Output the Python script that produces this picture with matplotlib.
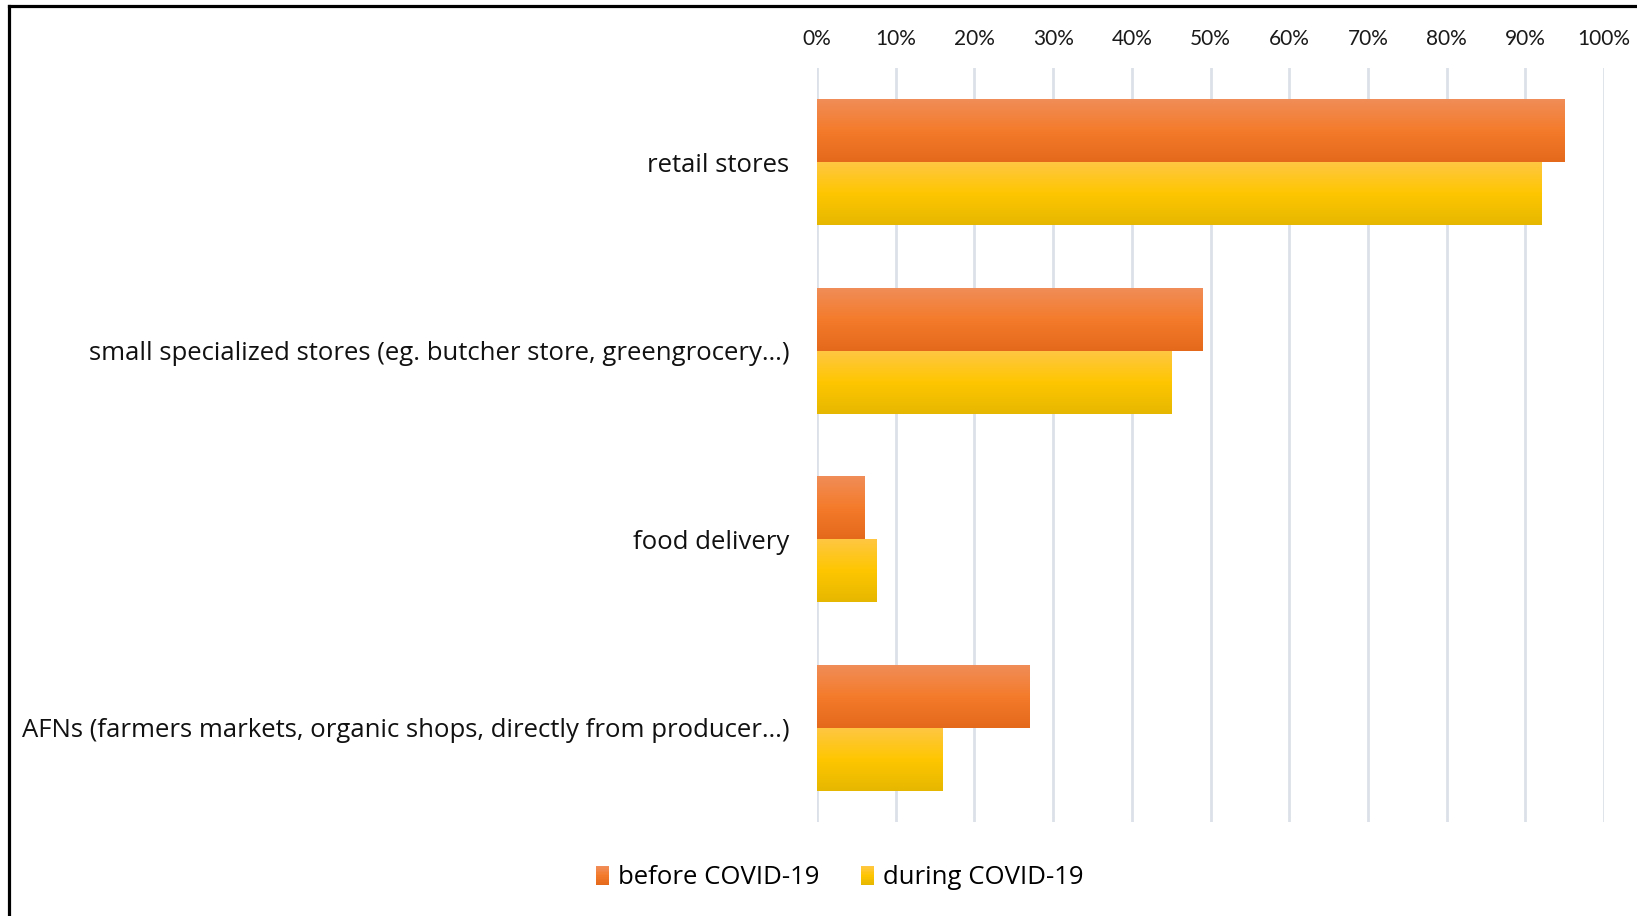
import numpy as np
import matplotlib
matplotlib.use("Agg")
import matplotlib.pyplot as plt
from matplotlib.colors import LinearSegmentedColormap
from matplotlib.lines import Line2D
from matplotlib.patches import Patch, Rectangle
from matplotlib.legend_handler import HandlerBase

plt.rcParams['font.family'] = ['Open Sans', 'DejaVu Sans']

categories = [
    "retail stores",
    "small specialized stores (eg. butcher store, greengrocery\u2026)",
    "food delivery",
    "AFNs (farmers markets, organic shops, directly from producer\u2026)",
]
before_covid = [95, 49, 6, 27]
during_covid = [92, 45, 7.5, 16]
series_names = ["before COVID-19", "during COVID-19"]
tick_values = list(range(0, 101, 10))
tick_labels = [f"{v}%" for v in tick_values]

# top -> middle -> bottom shading for each series
orange_stops = ["#F08D58", "#F47B2B", "#E5691B"]
yellow_stops = ["#FFC742", "#FEC600", "#E6B700"]
orange_cmap = LinearSegmentedColormap.from_list("orange_grad", orange_stops)
yellow_cmap = LinearSegmentedColormap.from_list("yellow_grad", yellow_stops)

W, H, DPI = 1637, 916, 100
fig = plt.figure(figsize=(W / DPI, H / DPI), dpi=DPI)
ax = fig.add_axes([817 / W, 1 - 822 / H, 787 / W, 754 / H])

n = len(categories)
ypos = np.arange(n)[::-1]  # first category on top
bar_h = 1 / 3

bars_before = ax.barh(ypos + bar_h / 2, before_covid, height=bar_h,
                      color=orange_stops[1], zorder=2)
bars_during = ax.barh(ypos - bar_h / 2, during_covid, height=bar_h,
                      color=yellow_stops[1], zorder=2)


def shade(bars, cmap):
    grad = np.linspace(0, 1, 256).reshape(-1, 1)
    for b in bars:
        x0, y0 = b.get_x(), b.get_y()
        w, h = b.get_width(), b.get_height()
        im = ax.imshow(grad, cmap=cmap, aspect="auto", origin="upper",
                       extent=(x0, x0 + w, y0, y0 + h), zorder=3,
                       interpolation="bilinear")
        im.set_clip_path(b)


shade(bars_before, orange_cmap)
shade(bars_during, yellow_cmap)

ax.set_xlim(0, 100)
ax.set_ylim(-0.5, n - 0.5)
ax.set_xticks(tick_values)
ax.set_xticklabels(tick_labels, fontsize=15, color="#1a1a1a",
                   family=['Lato', 'DejaVu Sans'])
ax.xaxis.tick_top()
ax.tick_params(axis="x", length=0, pad=14)
ax.set_yticks(ypos)
ax.set_yticklabels(categories, fontsize=18.5, color="#111111")
ax.tick_params(axis="y", length=0, pad=20)
ax.grid(axis="x", color="#DCE0E8", linewidth=2, zorder=0)
ax.set_axisbelow(True)
for s in ax.spines.values():
    s.set_visible(False)


class GradientSwatch(HandlerBase):
    """Legend key drawn as a vertically shaded square."""

    def __init__(self, cmap, strips=12):
        super().__init__()
        self.cmap = cmap
        self.strips = strips

    def create_artists(self, legend, orig_handle, xdescent, ydescent,
                       width, height, fontsize, trans):
        artists = []
        sh = height / self.strips
        for i in range(self.strips):
            c = self.cmap(i / (self.strips - 1))
            y = -ydescent + height - (i + 1) * sh
            artists.append(Rectangle((-xdescent, y), width, sh * 1.05,
                                     facecolor=c, edgecolor="none",
                                     transform=trans))
        return artists


handles = [Patch(facecolor=orange_stops[1]), Patch(facecolor=yellow_stops[1])]
fig.legend(handles, series_names, loc="center", bbox_to_anchor=(0.513, 1 - 878 / H),
           ncol=2, frameon=False, fontsize=18.5, handlelength=0.5, handleheight=0.8,
           handletextpad=0.35, columnspacing=1.65,
           handler_map={handles[0]: GradientSwatch(orange_cmap),
                        handles[1]: GradientSwatch(yellow_cmap)})

# outer frame
fig.add_artist(Line2D([9 / W, 1], [1 - 6 / H, 1 - 6 / H], color="black", lw=2.3,
                      transform=fig.transFigure))
fig.add_artist(Line2D([9 / W, 9 / W], [0, 1 - 6 / H], color="black", lw=2.3,
                      transform=fig.transFigure))

fig.savefig("out.png", dpi=DPI, facecolor="white")
